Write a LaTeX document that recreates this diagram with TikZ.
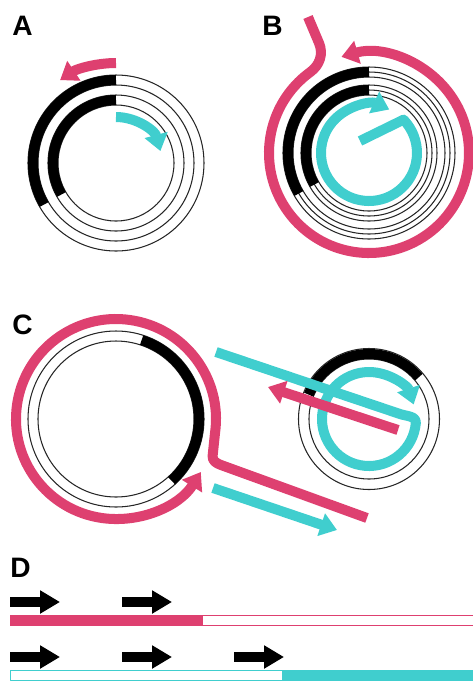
\documentclass[tikz,border=0pt]{standalone}
\usepackage{fontspec}
\setmainfont{Liberation Sans}
\usetikzlibrary{arrows.meta,calc}
\definecolor{strandpink}{RGB}{222,64,112}
\definecolor{strandteal}{RGB}{64,206,206}
\begin{document}
\begin{tikzpicture}[x=0.02cm,y=0.02cm,line join=round,
   ring/.style={draw=black!85,line width=0.6pt},
   band/.style={black,line width=5.7pt},
   pinkstrand/.style={strandpink,line width=5.7pt},
   tealstrand/.style={strandteal,line width=5.7pt},
   tip/.style={-{Triangle[length=9.5pt,width=13pt]}},
   bigtip/.style={-{Triangle[length=11.3pt,width=12.5pt]}},
   panel/.style={anchor=base west,inner sep=0pt,font=\fontsize{16}{16}\selectfont\bfseries}]
   \useasboundingbox (0,0) rectangle (473,-681);
   \clip (0,0) rectangle (473,-681);
   \coordinate (cA) at (116,-163);
   \coordinate (cB) at (369,-153);
   \coordinate (cC) at (116,-419);
   \coordinate (cS) at (369,-419);
   % A
   \node[panel] (labA) at (12,-35) {A};
   \foreach \r in {58,68,78,88} \draw[ring] (cA) circle[radius=\r];
   \draw[band] ([shift={(cA)}]90:83) arc[start angle=90,end angle=210,radius=83];
   \draw[band] ([shift={(cA)}]90:63) arc[start angle=90,end angle=210,radius=63];
   \draw[pinkstrand,tip] ([shift={(cA)}]90:100) arc[start angle=90,end angle=124,radius=100];
   \draw[tealstrand,tip] ([shift={(cA)}]90:46) arc[start angle=90,end angle=15,radius=46];
   % B
   \node[panel] (labB) at (262,-35) {B};
   \foreach \r in {58,63,68,76,81,86} \draw[ring] (cB) circle[radius=\r];
   \draw[band] ([shift={(cB)}]90:81) arc[start angle=90,end angle=210,radius=81];
   \draw[band] ([shift={(cB)}]90:63) arc[start angle=90,end angle=210,radius=63];
   \draw[pinkstrand,tip] (308,-17) -- (319,-43) to[out=-67,in=36] ([shift={(cB)}]126:100)
      arc[start angle=126,end angle=466,radius=100];
   \draw[tealstrand,tip] (360,-141) -- ([shift={(cB)}]44:48)
      arc[start angle=44,end angle=-295,radius=48];
   % C, big circle
   \node[panel] (labC) at (12,-334) {C};
   \draw[ring] (cC) circle[radius=78];
   \draw[ring] (cC) circle[radius=88];
   \draw[band] ([shift={(cC)}]72:83) arc[start angle=72,end angle=-48,radius=83];
   \draw[pinkstrand,tip] (367,-518) -- (221,-465) to[out=160,in=-96] (212.6,-456)
      -- ([shift={(cC)}]-8:100) arc[start angle=-8,end angle=328,radius=100];
   \draw[tealstrand,tip] (213,-488) -- (337,-530);
   % C, small circle
   \draw[ring] (cS) circle[radius=60];
   \draw[ring] (cS) circle[radius=70.5];
   \draw[band] ([shift={(cS)}]158:65) arc[start angle=158,end angle=40,radius=65];
   \draw[tealstrand,tip] (216,-352) -- (400,-414) to[out=-18.7,in=85] ([shift={(cS)}]-5:47)
      arc[start angle=-5,end angle=-342,radius=47];
   \draw[pinkstrand,tip] (398,-430) -- (268,-387);
   % D
   \node[panel] (labD) at (10,-577) {D};
   \foreach \x in {10,122} \draw[band,bigtip] (\x,-602) -- ++(50,0);
   \fill[strandpink] (10,-615) rectangle (202,-626);
   \draw[strandpink,line width=0.8pt] (202,-615.7) rectangle (480,-625.3);
   \foreach \x in {10,122,234} \draw[band,bigtip] (\x,-657) -- ++(50,0);
   \draw[strandteal,line width=0.8pt] (10.4,-670.7) rectangle (283,-680.3);
   \fill[strandteal] (283,-670) rectangle (480,-681);
\end{tikzpicture}
\end{document}
